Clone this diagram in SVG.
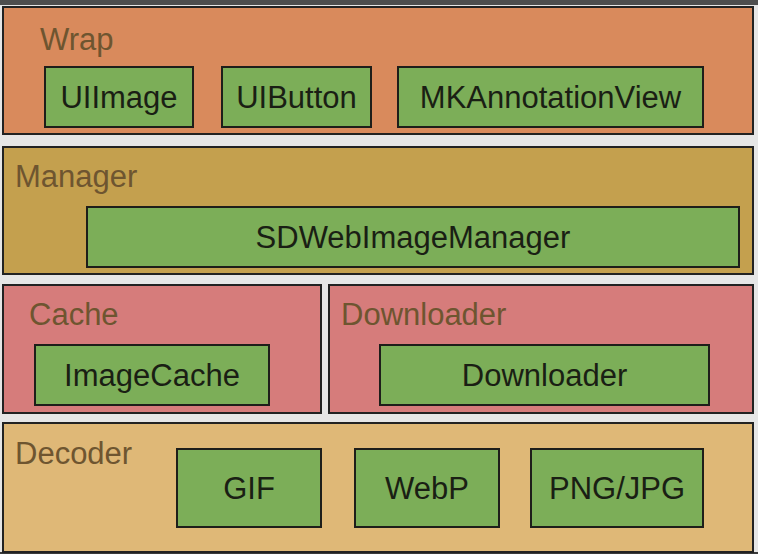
<svg xmlns="http://www.w3.org/2000/svg" width="758" height="554" viewBox="0 0 758 554">
<style>
.layer{stroke:#222;stroke-width:2}
.box{fill:#7cae58;stroke:#1e1e1a;stroke-width:2}
.lbl{font-family:"Liberation Sans",Arial,sans-serif;font-size:31px;fill:#6e5530}
.txt{font-family:"Liberation Sans",Arial,sans-serif;font-size:31px;fill:#1a1f14;text-anchor:middle}
</style>
<rect x="0" y="0" width="758" height="554" fill="#e6e6e6"/>
<rect x="0" y="0" width="758" height="5" fill="#4e4e4e"/>
<rect x="0" y="552" width="758" height="2" fill="#3a3a3a"/>
<g id="wrap">
<rect class="layer" x="3" y="7" width="750" height="127" fill="#d98a5c"/>
<text class="lbl" x="40" y="50">Wrap</text>
</g>
<g id="uiimage"><rect class="box" x="45" y="67" width="148" height="60"/><text class="txt" x="119" y="108">UIImage</text></g>
<g id="uibutton"><rect class="box" x="222" y="67" width="149" height="60"/><text class="txt" x="296.5" y="108">UIButton</text></g>
<g id="mkannotationview"><rect class="box" x="398" y="67" width="305" height="60"/><text class="txt" x="550.5" y="108">MKAnnotationView</text></g>
<g id="manager">
<rect class="layer" x="3" y="147" width="750" height="127" fill="#c4a04e"/>
<text class="lbl" x="15" y="187">Manager</text>
</g>
<g id="sdwebimagemanager"><rect class="box" x="87" y="207" width="652" height="60"/><text class="txt" x="413" y="248">SDWebImageManager</text></g>
<g id="cache">
<rect class="layer" x="3" y="285" width="318" height="128" fill="#d67c7b"/>
<text class="lbl" x="29" y="325">Cache</text>
</g>
<g id="imagecache"><rect class="box" x="35" y="345" width="234" height="60"/><text class="txt" x="152" y="386">ImageCache</text></g>
<g id="downloader-layer">
<rect class="layer" x="329" y="285" width="424" height="128" fill="#d67c7b"/>
<text class="lbl" x="341" y="325">Downloader</text>
</g>
<g id="downloader"><rect class="box" x="380" y="345" width="329" height="60"/><text class="txt" x="544.5" y="386">Downloader</text></g>
<g id="decoder">
<rect class="layer" x="3" y="423" width="750" height="129" fill="#dfb877"/>
<text class="lbl" x="15" y="464">Decoder</text>
</g>
<g id="gif"><rect class="box" x="177" y="449" width="144" height="78"/><text class="txt" x="249" y="499">GIF</text></g>
<g id="webp"><rect class="box" x="355" y="449" width="144" height="78"/><text class="txt" x="427" y="499">WebP</text></g>
<g id="pngjpg"><rect class="box" x="531" y="449" width="172" height="78"/><text class="txt" x="617" y="499">PNG/JPG</text></g>
<g id="connectors"></g>
</svg>
